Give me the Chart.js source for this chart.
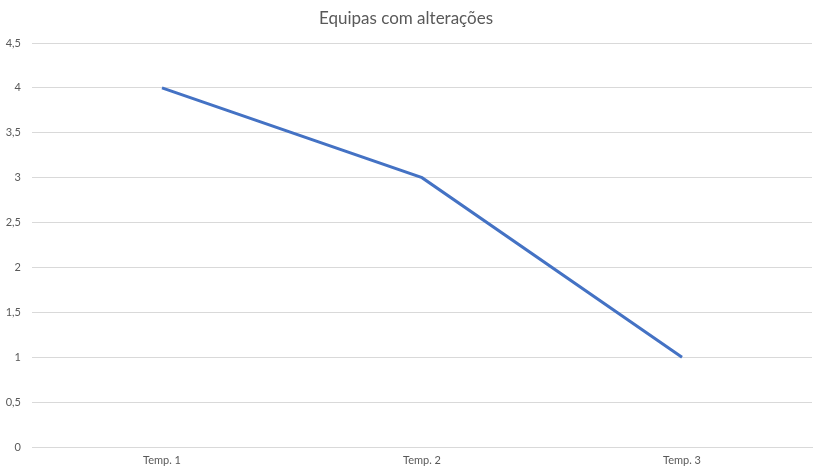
<!DOCTYPE html>
<html>
<head>
<meta charset="utf-8">
<script src="https://cdn.jsdelivr.net/npm/chart.js@4/dist/chart.umd.min.js"></script>
<style>
  html, body { margin: 0; padding: 0; background: #fff; }
  #wrap { width: 822px; height: 474px; }
</style>
</head>
<body>
<div id="wrap"><canvas id="grafico"></canvas></div>
<script>
// dados do gráfico
const categorias = ['Temp. 1', 'Temp. 2', 'Temp. 3'];
const equipas = [4, 3, 1];
const tituloGrafico = 'Equipas com alterações';

const cinza = '#595959';

new Chart(document.getElementById('grafico'), {
    type: 'line',
    data: {
        labels: categorias,
        datasets: [{
            label: 'Equipas',
            data: equipas,
            borderColor: '#4472C4',
            borderWidth: 3,
            pointRadius: 0,
            tension: 0,
            fill: false
        }]
    },
    options: {
        responsive: true,
        maintainAspectRatio: false,
        animation: false,
        layout: { padding: { left: 0, right: 10, top: 0, bottom: 0 } },
        plugins: {
            legend: { display: false },
            tooltip: { enabled: false },
            title: {
                display: true,
                text: tituloGrafico,
                color: cinza,
                font: { family: 'Lato', size: 17, weight: 'normal' },
                padding: { top: 8, bottom: 14.6 }
            }
        },
        scales: {
            x: {
                offset: true,
                grid: { display: false, drawTicks: false },
                border: { display: true, color: '#D9D9D9', width: 1 },
                ticks: {
                    color: cinza,
                    padding: 7,
                    font: { family: 'Lato', size: 11 }
                },
                afterFit: (scale) => { scale.height = 27; }
            },
            y: {
                min: 0,
                max: 4.5,
                grid: { color: '#D9D9D9', drawTicks: false },
                border: { display: false },
                ticks: {
                    stepSize: 0.5,
                    color: cinza,
                    padding: 11,
                    font: { family: 'Lato', size: 11 },
                    callback: (v) => String(v).replace('.', ',')
                },
                afterFit: (scale) => { scale.width = 32; }
            }
        }
    }
});
</script>
</body>
</html>
